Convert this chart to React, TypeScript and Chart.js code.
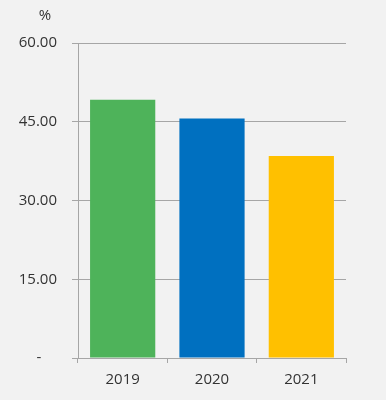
import React, { useEffect, useRef } from "react";
import { Chart, registerables } from "chart.js";

Chart.register(...registerables);

const categories = ["2019", "2020", "2021"];
const values = [49.2, 45.6, 38.5];
const barColors = ["#4EB35A", "#0070C0", "#FFC000"];
const yTicks = [0, 15, 30, 45, 60];
const unitLabel = "%";

const GRID = "#a6a6a6";
const TEXT = "#333333";
const BG = "#f2f2f2";
const FONT = "'Open Sans', sans-serif";

export default function App() {
  const ref = useRef<HTMLCanvasElement>(null);

  useEffect(() => {
    document.body.style.margin = "0";
    document.body.style.background = BG;
    const canvas = ref.current!;
    const bgPlugin = {
      id: "bg",
      beforeDraw(chart: any) {
        const { ctx, width, height } = chart;
        ctx.save();
        ctx.fillStyle = BG;
        ctx.fillRect(0, 0, width, height);
        ctx.restore();
      },
      afterDraw(chart: any) {
        const { ctx, chartArea } = chart;
        ctx.save();
        ctx.fillStyle = TEXT;
        ctx.font = `15px ${FONT}`;
        ctx.textAlign = "center";
        ctx.textBaseline = "middle";
        ctx.fillText(unitLabel, chartArea.left - 33, chartArea.top - 27);
        ctx.restore();
      },
    };
    const chart = new Chart(canvas, {
      type: "bar",
      data: {
        labels: categories,
        datasets: [
          {
            data: values,
            backgroundColor: barColors,
            barPercentage: 0.73,
            categoryPercentage: 1,
            borderWidth: 0,
          },
        ],
      },
      options: {
        animation: false,
        responsive: false,
        layout: { padding: { left: 0, right: 40, top: 43, bottom: 0 } },
        plugins: { legend: { display: false }, tooltip: { enabled: false } },
        scales: {
          x: {
            afterFit(scale: any) {
              scale.height = 42;
            },
            grid: {
              offset: true,
              drawOnChartArea: false,
              drawTicks: true,
              tickLength: 5,
              color: GRID,
            },
            border: { display: true, color: GRID },
            ticks: {
              color: TEXT,
              font: { family: FONT, size: 15 },
              padding: 8,
            },
          },
          y: {
            min: 0,
            max: 60,
            afterFit(scale: any) {
              scale.width = 78;
            },
            afterBuildTicks(scale: any) {
              scale.ticks = yTicks.map((v) => ({ value: v }));
            },
            grid: { color: GRID, tickLength: 6, drawTicks: true },
            border: { display: true, color: GRID },
            ticks: {
              color: TEXT,
              font: { family: FONT, size: 15 },
              padding: 15,
              callback: (v: any) => (Number(v) === 0 ? "-    " : Number(v).toFixed(2)),
            },
          },
        },
      },
      plugins: [bgPlugin],
    });
    return () => chart.destroy();
  }, []);

  return (
    <div style={{ position: "absolute", left: 0, top: 0, width: 386, height: 400 }}>
      <canvas ref={ref} width={386} height={400} />
    </div>
  );
}
